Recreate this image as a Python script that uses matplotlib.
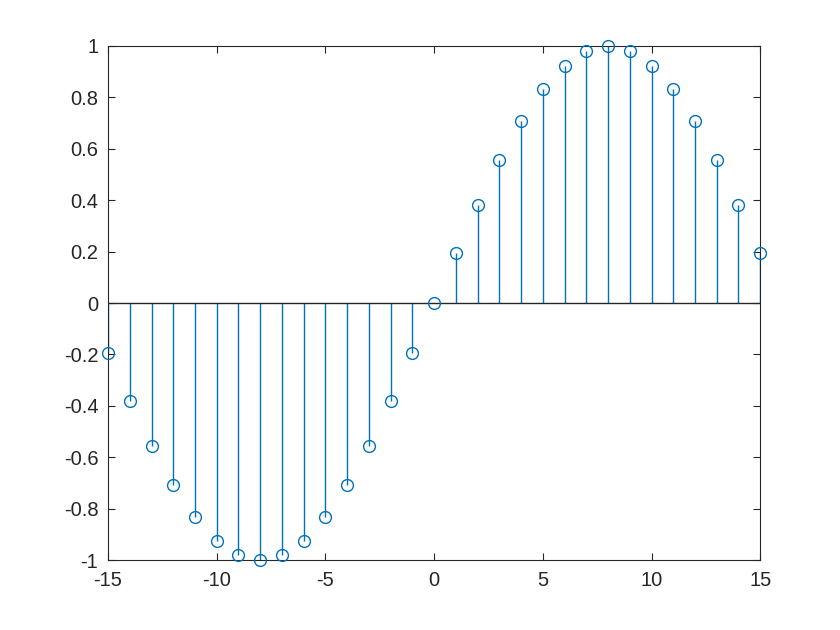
import numpy as np
import matplotlib
matplotlib.use('Agg')
import matplotlib.pyplot as plt

plt.rcParams['font.family'] = ['Liberation Sans', 'DejaVu Sans']

n = list(range(-15, 16))
pos_half = [0.0, 0.195, 0.383, 0.556, 0.707, 0.831, 0.924, 0.981, 1.0,
            0.981, 0.924, 0.831, 0.707, 0.556, 0.383, 0.195]
neg_half = [-0.195, -0.383, -0.556, -0.707, -0.831, -0.924, -0.981, -1.0,
            -0.981, -0.924, -0.831, -0.707, -0.556, -0.383, -0.195]
values = neg_half + pos_half

xticks = [-15, -10, -5, 0, 5, 10, 15]
yticks = [-1, -0.8, -0.6, -0.4, -0.2, 0, 0.2, 0.4, 0.6, 0.8, 1]
ytick_labels = ['-1', '-0.8', '-0.6', '-0.4', '-0.2', '0', '0.2', '0.4', '0.6', '0.8', '1']

blue = '#0072BD'

fig = plt.figure(figsize=(8.4, 6.3), dpi=100)
ax = fig.add_axes([0.1286, 0.111, 0.7764, 0.816])

markerline, stemlines, baseline = ax.stem(n, values, basefmt='k-')
plt.setp(stemlines, color=blue, linewidth=1.0)
plt.setp(markerline, marker='o', markersize=8.5, markerfacecolor='none',
         markeredgecolor=blue, markeredgewidth=1.0, clip_on=False, zorder=4)
plt.setp(baseline, color='#262626', linewidth=1.0)

ax.set_xlim(-15, 15)
ax.set_ylim(-1, 1)
ax.set_xticks(xticks)
ax.set_xticklabels([str(t) for t in xticks])
ax.set_yticks(yticks)
ax.set_yticklabels(ytick_labels)
ax.tick_params(direction='in', length=5, width=0.8, colors='#262626',
               labelsize=14.5, top=True, right=True)
ax.tick_params(axis='x', pad=8)
ax.tick_params(axis='y', pad=7)
for s in ax.spines.values():
    s.set_color('#262626')
    s.set_linewidth(0.8)
for lab in ax.get_xticklabels() + ax.get_yticklabels():
    lab.set_color('#262626')

fig.savefig('out.png', dpi=100)
